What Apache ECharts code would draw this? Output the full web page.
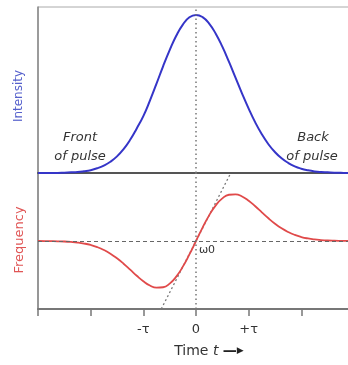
<!DOCTYPE html>
<html>
<head>
<meta charset="utf-8">
<script src="https://cdn.jsdelivr.net/npm/echarts@6/dist/echarts.min.js"></script>
<style>
  html, body { margin: 0; padding: 0; background: #fff; }
  #chart { width: 348px; height: 365px; }
</style>
</head>
<body>
<div id="chart"></div>
<script>
// Time samples in units of the pulse duration tau
const timeSteps = [
  -3, -2.875, -2.75, -2.625, -2.5, -2.375, -2.25, -2.125, -2, -1.875, -1.75, -1.625,
  -1.5, -1.375, -1.25, -1.125, -1, -0.875, -0.75, -0.625, -0.5, -0.375, -0.25, -0.125,
  0, 0.125, 0.25, 0.375, 0.5, 0.625, 0.75, 0.875, 1, 1.125, 1.25, 1.375,
  1.5, 1.625, 1.75, 1.875, 2, 2.125, 2.25, 2.375, 2.5, 2.625, 2.75, 2.875, 3
];
// Normalised pulse intensity envelope
const intensity = [
  0, 0, 0, 0, 0.002, 0.004, 0.006, 0.011, 0.018, 0.030, 0.047, 0.071,
  0.105, 0.151, 0.210, 0.282, 0.360, 0.458, 0.565, 0.675, 0.777, 0.868, 0.939, 0.985,
  1.000, 0.986, 0.945, 0.881, 0.799, 0.704, 0.603, 0.502, 0.407, 0.320, 0.245, 0.182,
  0.132, 0.093, 0.064, 0.042, 0.027, 0.017, 0.010, 0.006, 0.004, 0.002, 0.001, 0, 0
];
// Instantaneous frequency offset from the carrier frequency
const frequency = [
  0, -0.001, -0.003, -0.006, -0.011, -0.020, -0.033, -0.054, -0.085, -0.130, -0.191, -0.270,
  -0.369, -0.484, -0.611, -0.740, -0.858, -0.949, -0.996, -0.986, -0.908, -0.760, -0.547, -0.287,
  0, 0.287, 0.547, 0.760, 0.908, 0.986, 0.996, 0.949, 0.858, 0.740, 0.611, 0.484,
  0.369, 0.270, 0.191, 0.130, 0.085, 0.054, 0.033, 0.020, 0.011, 0.006, 0.003, 0.001, 0
];
// Linear chirp around the pulse centre
const chirpLine = [[-0.66, -1.45], [0.66, 1.45]];
// Tick labels along the time axis
const tickLabels = { '-1': '-τ', '0': '0', '1': '+τ' };

const chart = echarts.init(document.getElementById('chart'), null, { renderer: 'canvas' });

const pair = (xs, ys) => xs.map((x, i) => [x, ys[i]]);
const dotted = () => ({ color: '#777', type: [1.5, 3], width: 1.5 });

const option = {
  animation: false,
  grid: [
    { left: 38, top: 7, width: 316, height: 166, outerBoundsMode: 'none', containLabel: false,
      show: true, borderColor: '#aaa', borderWidth: 1, backgroundColor: 'transparent' },
    { left: 38, top: 173, width: 316, height: 136, outerBoundsMode: 'none', containLabel: false,
      show: true, borderColor: '#888', borderWidth: 1, backgroundColor: 'transparent' }
  ],
  xAxis: [
    {
      gridIndex: 0, type: 'value', min: -3, max: 3, interval: 1,
      axisLine: { show: true, onZero: false, lineStyle: { color: '#555', width: 2 } },
      axisTick: { show: false }, axisLabel: { show: false }, splitLine: { show: false }
    },
    {
      gridIndex: 1, type: 'value', min: -3, max: 3, interval: 1,
      axisLine: { show: true, onZero: false, lineStyle: { color: '#777', width: 2 } },
      axisTick: { show: true, length: 7, lineStyle: { color: '#777', width: 1.5 } },
      axisLabel: {
        margin: 14, color: '#333', fontSize: 13, fontFamily: 'DejaVu Sans',
        formatter: v => tickLabels[String(v)] || ''
      },
      splitLine: { show: false }
    }
  ],
  yAxis: [
    {
      gridIndex: 0, type: 'value', min: 0, max: 1.05,
      axisLine: { show: true, onZero: false, lineStyle: { color: '#888', width: 1.5 } },
      axisTick: { show: false }, axisLabel: { show: false }, splitLine: { show: false }
    },
    {
      gridIndex: 1, type: 'value', min: -1.45, max: 1.45,
      axisLine: { show: true, onZero: false, lineStyle: { color: '#888', width: 1.5 } },
      axisTick: { show: false }, axisLabel: { show: false }, splitLine: { show: false }
    }
  ],
  series: [
    {
      type: 'line', xAxisIndex: 0, yAxisIndex: 0, smooth: true, symbol: 'none',
      data: pair(timeSteps, intensity),
      lineStyle: { color: '#3535c8', width: 2 },
      markLine: {
        silent: true, symbol: 'none', label: { show: false },
        data: [{ xAxis: 0, lineStyle: dotted() }]
      },
      z: 3
    },
    {
      type: 'line', xAxisIndex: 1, yAxisIndex: 1, symbol: 'none',
      data: chirpLine,
      lineStyle: { color: '#777', type: [2, 2.5], width: 1.3 },
      z: 2
    },
    {
      type: 'line', xAxisIndex: 1, yAxisIndex: 1, smooth: true, symbol: 'none',
      data: pair(timeSteps, frequency),
      lineStyle: { color: '#e04a4a', width: 1.8 },
      markLine: {
        silent: true, symbol: 'none', label: { show: false },
        lineStyle: { color: '#666', type: [4, 3], width: 1.2 },
        data: [{ yAxis: 0 }, { xAxis: 0, lineStyle: dotted() }]
      },
      z: 3
    }
  ],
  graphic: [
    { type: 'text', x: 19, y: 96, rotation: Math.PI / 2,
      style: { text: 'Intensity', fill: '#5560cc', font: '12px "DejaVu Sans"', align: 'center', verticalAlign: 'middle' } },
    { type: 'text', x: 20, y: 240, rotation: Math.PI / 2,
      style: { text: 'Frequency', fill: '#e05555', font: '13px "DejaVu Sans"', align: 'center', verticalAlign: 'middle' } },
    { type: 'text', x: 80, y: 138,
      style: { text: 'Front', fill: '#333', font: 'italic 13px "DejaVu Sans"', align: 'center', verticalAlign: 'middle' } },
    { type: 'text', x: 80, y: 157,
      style: { text: 'of pulse', fill: '#333', font: 'italic 13px "DejaVu Sans"', align: 'center', verticalAlign: 'middle' } },
    { type: 'text', x: 313, y: 138,
      style: { text: 'Back', fill: '#333', font: 'italic 13px "DejaVu Sans"', align: 'center', verticalAlign: 'middle' } },
    { type: 'text', x: 312, y: 157,
      style: { text: 'of pulse', fill: '#333', font: 'italic 13px "DejaVu Sans"', align: 'center', verticalAlign: 'middle' } },
    { type: 'text', x: 207, y: 250,
      style: { text: 'ω0', fill: '#333', font: '11px "DejaVu Sans"', align: 'center', verticalAlign: 'middle' } },
    { type: 'text', x: 209, y: 351,
      style: {
        text: '{a|Time }{b|t }{c|—}{d|▶}', align: 'center', verticalAlign: 'middle',
        rich: {
          a: { fill: '#333', font: '14px "DejaVu Sans"' },
          b: { fill: '#333', font: 'italic 14px "DejaVu Sans"' },
          c: { fill: '#222', font: 'bold 14px "DejaVu Sans"' },
          d: { fill: '#222', font: '9px "DejaVu Sans"' }
        }
      } }
  ]
};

chart.setOption(option);
</script>
</body>
</html>
